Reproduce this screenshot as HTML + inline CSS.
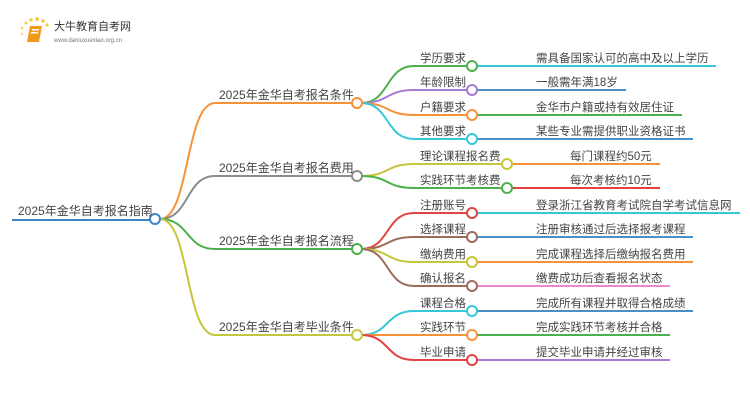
<!DOCTYPE html>
<html><head><meta charset="utf-8"><style>
html,body{margin:0;padding:0;background:#fff;}
svg{display:block;}
text{font-family:"Liberation Sans","Noto Sans CJK SC",sans-serif;fill:#444;}
</style></head><body>
<svg width="750" height="410" viewBox="0 0 750 410" xmlns="http://www.w3.org/2000/svg">
<g>
<circle cx="26" cy="23" r="1.5" fill="#f8c94a"/><circle cx="31" cy="20" r="1.8" fill="#f8c94a"/><circle cx="37" cy="19" r="2" fill="#f8c94a"/><circle cx="43" cy="21" r="1.8" fill="#f8c94a"/><circle cx="47" cy="25" r="1.6" fill="#f8c94a"/><circle cx="22" cy="28" r="1.2" fill="#f8c94a"/><circle cx="22" cy="34" r="1" fill="#f8c94a"/>
<path d="M30 26 L42 26 L39 42 L27 42 Z" fill="#f29a1c"/>
<rect x="32" y="29" width="7" height="1.5" fill="#fff"/><rect x="31" y="32" width="7" height="1.5" fill="#fff"/>
<text x="54" y="30" font-size="11" style="fill:#333">大牛教育自考网</text>
<text x="54" y="42" font-size="6" style="fill:#777">www.daniuxuexiao.org.cn</text>
</g>
<g fill="none" stroke-width="2">
<path d="M12 220 H150" stroke="#3d85c6"/>
<path d="M160 219 C190 219,185 103,215 103 H352" stroke="#f7923a"/>
<path d="M160 219 C190 219,185 176,215 176 H352" stroke="#8c8c8c"/>
<path d="M160 219 C190 219,185 249,215 249 H352" stroke="#4cb04c"/>
<path d="M160 219 C190 219,185 335,215 335 H352" stroke="#c6c63a"/>
<path d="M361 103 C390 103,385 66,414 66 H467" stroke="#4cb04c"/>
<path d="M361 103 C390 103,385 90,414 90 H467" stroke="#a57bd4"/>
<path d="M361 103 C390 103,385 115,414 115 H467" stroke="#f7923a"/>
<path d="M361 103 C390 103,385 139,414 139 H467" stroke="#35c8d8"/>
<path d="M477 66 H716" stroke="#35c8d8"/>
<path d="M477 90 H626" stroke="#4a90c8"/>
<path d="M477 115 H682" stroke="#4cb04c"/>
<path d="M477 139 H693" stroke="#4a90c8"/>
<path d="M361 176 C390 176,385 164,414 164 H502" stroke="#c6c63a"/>
<path d="M361 176 C390 176,385 188,414 188 H502" stroke="#4cb04c"/>
<path d="M512 164 H660" stroke="#f7923a"/>
<path d="M512 188 H660" stroke="#e84040"/>
<path d="M361 249 C390 249,385 213,414 213 H467" stroke="#e04444"/>
<path d="M361 249 C390 249,385 237,414 237 H467" stroke="#9c6b5a"/>
<path d="M361 249 C390 249,385 262,414 262 H467" stroke="#c6c63a"/>
<path d="M361 249 C390 249,385 286,414 286 H467" stroke="#9c6b5a"/>
<path d="M477 213 H740" stroke="#35c8d8"/>
<path d="M477 237 H693" stroke="#4a90c8"/>
<path d="M477 262 H693" stroke="#f7923a"/>
<path d="M477 286 H670" stroke="#ee88cc"/>
<path d="M361 335 C390 335,385 311,414 311 H467" stroke="#35c8d8"/>
<path d="M361 335 C390 335,385 335,414 335 H467" stroke="#f7923a"/>
<path d="M361 335 C390 335,385 360,414 360 H467" stroke="#e04444"/>
<path d="M477 311 H693" stroke="#4a90c8"/>
<path d="M477 335 H670" stroke="#4cb04c"/>
<path d="M477 360 H670" stroke="#a57bd4"/>
</g>
<g fill="#fff" stroke-width="2">
<circle cx="155" cy="219" r="5" stroke="#3d85c6"/>
<circle cx="357" cy="103" r="5" stroke="#f7923a"/>
<circle cx="357" cy="176" r="5" stroke="#8c8c8c"/>
<circle cx="357" cy="249" r="5" stroke="#4cb04c"/>
<circle cx="357" cy="335" r="5" stroke="#c6c63a"/>
<circle cx="472" cy="66" r="5" stroke="#4cb04c"/>
<circle cx="472" cy="90" r="5" stroke="#a57bd4"/>
<circle cx="472" cy="115" r="5" stroke="#f7923a"/>
<circle cx="472" cy="139" r="5" stroke="#35c8d8"/>
<circle cx="507" cy="164" r="5" stroke="#c6c63a"/>
<circle cx="507" cy="188" r="5" stroke="#4cb04c"/>
<circle cx="472" cy="213" r="5" stroke="#e04444"/>
<circle cx="472" cy="237" r="5" stroke="#9c6b5a"/>
<circle cx="472" cy="262" r="5" stroke="#c6c63a"/>
<circle cx="472" cy="286" r="5" stroke="#9c6b5a"/>
<circle cx="472" cy="311" r="5" stroke="#35c8d8"/>
<circle cx="472" cy="335" r="5" stroke="#f7923a"/>
<circle cx="472" cy="360" r="5" stroke="#e04444"/>
</g>
<g font-size="12">
<text x="18" y="215">2025年金华自考报名指南</text>
<text x="219" y="99">2025年金华自考报名条件</text>
<text x="219" y="172">2025年金华自考报名费用</text>
<text x="219" y="245">2025年金华自考报名流程</text>
<text x="219" y="331">2025年金华自考毕业条件</text>
</g>
<g font-size="11.5">
<text x="420" y="62">学历要求</text>
<text x="420" y="86">年龄限制</text>
<text x="420" y="111">户籍要求</text>
<text x="420" y="135">其他要求</text>
<text x="420" y="160">理论课程报名费</text>
<text x="420" y="184">实践环节考核费</text>
<text x="420" y="209">注册账号</text>
<text x="420" y="233">选择课程</text>
<text x="420" y="258">缴纳费用</text>
<text x="420" y="282">确认报名</text>
<text x="420" y="307">课程合格</text>
<text x="420" y="331">实践环节</text>
<text x="420" y="356">毕业申请</text>
<text x="536" y="62">需具备国家认可的高中及以上学历</text>
<text x="536" y="86">一般需年满18岁</text>
<text x="536" y="111">金华市户籍或持有效居住证</text>
<text x="536" y="135">某些专业需提供职业资格证书</text>
<text x="570" y="160">每门课程约50元</text>
<text x="570" y="184">每次考核约10元</text>
<text x="536" y="209">登录浙江省教育考试院自学考试信息网</text>
<text x="536" y="233">注册审核通过后选择报考课程</text>
<text x="536" y="258">完成课程选择后缴纳报名费用</text>
<text x="536" y="282">缴费成功后查看报名状态</text>
<text x="536" y="307">完成所有课程并取得合格成绩</text>
<text x="536" y="331">完成实践环节考核并合格</text>
<text x="536" y="356">提交毕业申请并经过审核</text>
</g>
</svg>
</body></html>
